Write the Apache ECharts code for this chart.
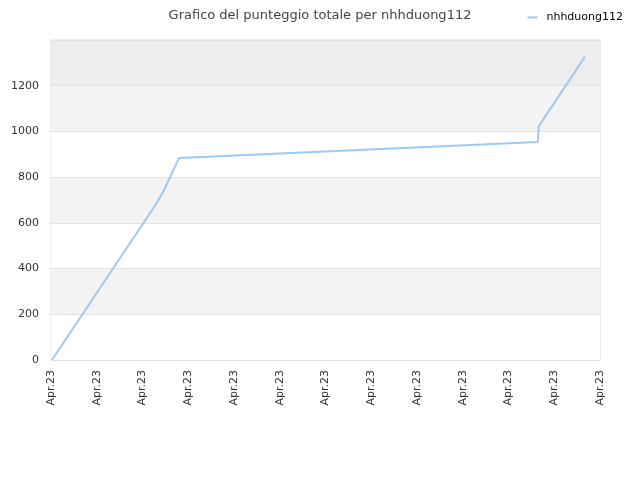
<!DOCTYPE html>
<html>
<head>
<meta charset="utf-8">
<script src="https://cdn.jsdelivr.net/npm/echarts@6/dist/echarts.min.js"></script>
<style>
  html, body { margin: 0; padding: 0; background: #fff; }
  #chart { width: 640px; height: 480px; }
</style>
</head>
<body>
<div id="chart"></div>
<script>
// x positions in tick units (0..12), score values
const tickLabels = ['Apr.23', 'Apr.23', 'Apr.23', 'Apr.23', 'Apr.23', 'Apr.23', 'Apr.23',
  'Apr.23', 'Apr.23', 'Apr.23', 'Apr.23', 'Apr.23', 'Apr.23']
const xPos = [0.02, 2.27, 2.46, 2.80, 10.64, 10.66, 11.67]
const scores = [0, 674, 739, 884, 954, 1022, 1326]

const bandColors = ['#ffffff', '#f3f3f3', '#ffffff', '#f3f3f3', '#ffffff', '#f3f3f3', '#ededed']

const chart = echarts.init(document.getElementById('chart'))

chart.setOption({
  animation: false,
  textStyle: { fontFamily: 'DejaVu Sans' },
  title: {
    text: 'Grafico del punteggio totale per nhhduong112',
    left: 'center',
    top: 4,
    textStyle: { fontSize: 13, fontWeight: 'normal', color: '#444' }
  },
  legend: {
    right: 12,
    top: 7,
    itemWidth: 10,
    itemHeight: 2,
    itemGap: 6,
    textStyle: { fontSize: 11, color: '#000', padding: [0, 0, 0, 4] },
    data: ['nhhduong112']
  },
  grid: {
    left: 51,
    right: 40,
    top: 40,
    bottom: 120,
    show: true,
    borderColor: '#dcdcdc',
    borderWidth: 1,
    containLabel: false
  },
  xAxis: {
    type: 'value',
    min: 0,
    max: 12,
    interval: 1,
    axisLine: { show: false },
    axisTick: { show: false },
    splitLine: { show: false },
    axisLabel: {
      rotate: 90,
      margin: 10,
      fontSize: 11,
      color: '#333',
      formatter: (v) => tickLabels[Math.round(v)] || ''
    }
  },
  yAxis: {
    type: 'value',
    min: 0,
    max: 1400,
    interval: 200,
    axisLine: { show: false },
    axisTick: { show: false },
    axisLabel: {
      fontSize: 11,
      color: '#333',
      margin: 12,
      showMaxLabel: false,
      formatter: (v) => String(v)
    },
    splitLine: { lineStyle: { color: '#e2e2e2' } },
    splitArea: { show: true, areaStyle: { color: bandColors } }
  },
  series: [
    {
      name: 'nhhduong112',
      type: 'line',
      data: xPos.map((x, i) => [x, scores[i]]),
      symbol: 'none',
      itemStyle: { color: '#9ccaf5' },
      lineStyle: { width: 2, color: '#9ccaf5' }
    }
  ]
})
</script>
</body>
</html>
